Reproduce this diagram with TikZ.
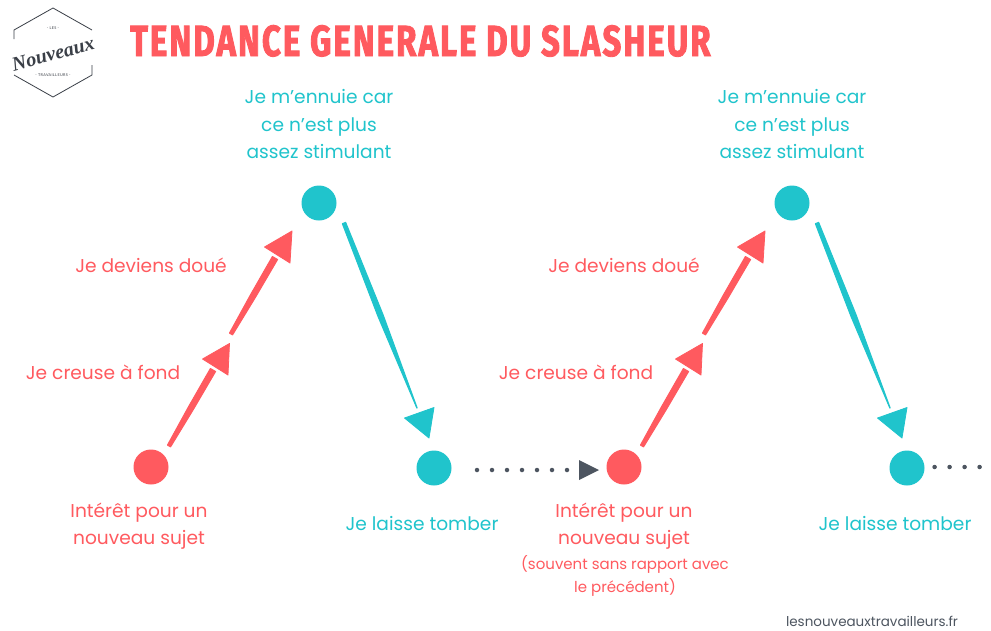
\documentclass[tikz,border=0pt]{standalone}
\usepackage{fontspec}
\usetikzlibrary{calc}
\setmainfont{Poppins}
\newfontfamily\titlefont[LetterSpace=4.9,FakeStretch=0.755,FakeBold=2]{Fira Sans}
\newfontfamily\logofont{Liberation Serif}
\newfontfamily\smallfont[LetterSpace=8]{Lato}
\definecolor{cred}{HTML}{FF5A5F}
\definecolor{cteal}{HTML}{20C4CC}
\definecolor{cdark}{HTML}{4D5560}
\definecolor{clogo}{HTML}{3A3F47}
\tikzset{
  x=1pt,y=-1pt,
  dotnode/.style={circle,fill=#1,inner sep=0pt,minimum size=35pt},
  lab/.style={text=#1,anchor=base,font=\fontsize{18.6}{18.6}\selectfont,inner sep=0pt},
  sublab/.style={text=#1,anchor=base,font=\fontsize{15}{15}\selectfont,inner sep=0pt},
  dots/.style={draw=cdark,line width=4.5pt,line cap=round,dash pattern=on 0pt off 15pt},
  logoline/.style={draw=clogo,line width=0.8pt}
}
% brush stroke from #2 to #3, half widths #4 (start), #5 (middle), #6 (end), colour #1
\newcommand{\brushstroke}[6]{%
  \coordinate (brm) at ($(#2)!.5!(#3)$);
  \filldraw[#1,line width=1pt,line join=round]
    ($(#2)!#4pt!90:(#3)$) -- ($(brm)!#5pt!90:(#3)$) -- ($(#3)!#6pt!-90:(#2)$) --
    ($(#3)!#6pt!90:(#2)$) -- ($(brm)!#5pt!-90:(#3)$) -- ($(#2)!#4pt!-90:(#3)$) -- cycle;}
\newcommand{\tiphead}[4]{%
  \filldraw[#1,line width=0.8pt,line join=round] (#2) -- (#3) -- (#4) -- cycle;}
\newcommand{\slashcycle}[2]{%
  \begin{scope}[shift={(#1,0)}]
  \node[dotnode=cred] (s#2) at (151,467) {};
  \node[dotnode=cteal] (t#2) at (319,203) {};
  \node[dotnode=cteal] (e#2) at (434,468) {};
  \coordinate (a#2) at (169,446); \coordinate (b#2) at (213,370);
  \coordinate (c#2) at (231,334); \coordinate (d#2) at (275,258);
  \coordinate (f#2) at (344,223); \coordinate (g#2) at (417,408);
  \brushstroke{cred}{a#2}{b#2}{1.8}{2.8}{3}
  \tiphead{cred}{229.5,343.5}{202.5,359}{228,375}
  \brushstroke{cred}{c#2}{d#2}{1.8}{2.8}{3}
  \tiphead{cred}{292,231}{264.5,247}{290,263}
  \brushstroke{cteal}{f#2}{g#2}{1.8}{2.7}{0.2}
  \tiphead{cteal}{434,407.5}{404.5,418}{429,438}
  \node[lab=cteal] (n1#2) at (319,103) {Je m’ennuie car};
  \node[lab=cteal] (n2#2) at (319,131) {ce n’est plus};
  \node[lab=cteal] (n3#2) at (319,158.5) {assez stimulant};
  \node[lab=cred] (n4#2) at (151,272) {Je deviens doué};
  \node[lab=cred] (n5#2) at (103,379) {Je creuse à fond};
  \node[lab=cteal] (n6#2) at (422,530) {Je laisse tomber};
  \end{scope}}
\begin{document}
\begin{tikzpicture}
\useasboundingbox (0,0) rectangle (991,630);
\fill[white] (0,0) rectangle (991,630);
% logo
\draw[logoline] (14,39) -- (14,30) -- (53,8) -- (92,30);
\draw[logoline] (14,75) -- (53,97) -- (92,75) -- (92,65);
\node[text=clogo,font=\smallfont\fontsize{3.8}{4}\selectfont] (les) at (53,28) {- LES -};
\node[text=clogo,font=\smallfont\fontsize{3.8}{4}\selectfont] (trav) at (53,75) {- TRAVAILLEURS -};
\node[text=clogo,rotate=15,inner sep=0pt,font=\logofont\bfseries\itshape\fontsize{20}{20}\selectfont] (nv) at (53,54) {Nouveaux};
% title
\node[text=cred,anchor=base west,inner sep=0pt,font=\titlefont\bfseries\fontsize{43.5}{43.5}\selectfont] (title) at (130,56) {TENDANCE GENERALE DU SLASHEUR};
\slashcycle{0}{A}
\slashcycle{473}{B}
\node[lab=cred] (i1) at (139,517) {Intérêt pour un};
\node[lab=cred] (i2) at (139,544) {nouveau sujet};
\node[lab=cred] (j1) at (624,517) {Intérêt pour un};
\node[lab=cred] (j2) at (624,544) {nouveau sujet};
\node[sublab=cred] (j3) at (625,569.5) {(souvent sans rapport avec};
\node[sublab=cred] (j4) at (625,592.5) {le précédent)};
\node[text=cdark,anchor=base,inner sep=0pt,font=\fontsize{13.5}{13.5}\selectfont] (url) at (872,626) {lesnouveauxtravailleurs.fr};
% dotted links
\draw[dots] (477,470) -- (570,470);
\fill[cdark] (579,460) -- (599,470) -- (579,480) -- cycle;
\draw[dots] (934.6,467) -- (981,467);
\end{tikzpicture}
\end{document}
